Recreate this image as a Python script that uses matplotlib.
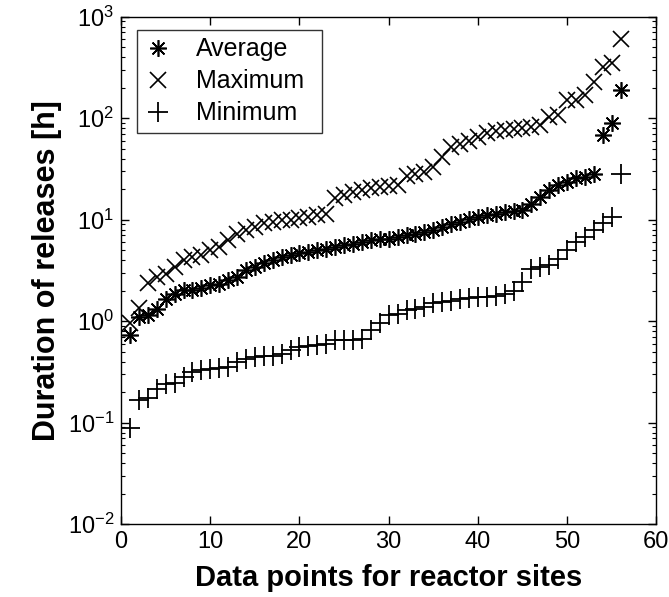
import numpy as np
import matplotlib
matplotlib.use("Agg")
import matplotlib.pyplot as plt
from matplotlib.ticker import LogLocator, NullFormatter

plt.rcParams['font.family'] = ['Liberation Sans', 'DejaVu Sans']

# sorted release durations [h] per reactor site
site_index = np.arange(1, 57)

average = [0.73, 1.1, 1.15, 1.33, 1.67, 1.87, 2.02, 2.05, 2.1, 2.27,
           2.35, 2.54, 2.74, 3.18, 3.43, 3.76, 4.0, 4.3, 4.47, 4.65,
           4.83, 5.0, 5.2, 5.4, 5.6, 5.8, 6.0, 6.3, 6.4, 6.5,
           6.7, 7.0, 7.3, 7.6, 8.0, 8.5, 9.0, 9.5, 10.1, 10.7,
           11.1, 11.5, 12.0, 12.2, 12.4, 14.4, 16.8, 19.6, 22.0, 23.7,
           25.6, 26.5, 28.0, 68.0, 90.0, 190.0]

maximum = [0.95, 1.35, 2.36, 2.74, 2.95, 3.4, 4.0, 4.3, 4.5, 5.0,
           5.4, 6.3, 7.3, 7.9, 8.5, 9.2, 9.5, 9.9, 10.0, 10.3,
           10.7, 11.0, 11.5, 16.2, 17.4, 18.8, 19.6, 20.3, 20.8, 21.4,
           22.0, 27.0, 28.0, 29.6, 33.0, 41.6, 52.0, 56.0, 60.0, 66.0,
           71.0, 74.0, 76.0, 79.0, 79.5, 82.0, 85.0, 103.0, 107.0, 150.0,
           152.0, 170.0, 229.0, 323.0, 347.0, 600.0]

minimum = [0.089, 0.166, 0.177, 0.217, 0.24, 0.245, 0.28, 0.316, 0.33, 0.335,
           0.346, 0.355, 0.40, 0.42, 0.44, 0.45, 0.455, 0.47, 0.525, 0.56,
           0.57, 0.58, 0.60, 0.65, 0.655, 0.66, 0.665, 0.815, 0.95, 1.15,
           1.17, 1.28, 1.33, 1.38, 1.52, 1.54, 1.58, 1.67, 1.70, 1.72,
           1.74, 1.76, 1.87, 1.99, 2.44, 3.3, 3.44, 3.56, 4.1, 5.0,
           6.0, 6.8, 7.9, 9.2, 10.7, 28.0]

fig = plt.figure(figsize=(6.69, 5.97), dpi=100)
ax = fig.add_axes([0.181, 0.122, 0.8, 0.85])

ax.plot(site_index, average, linestyle='none', marker=(8, 2, 0), markersize=12,
        markeredgewidth=1.2, color='black', label='Average')
ax.plot(site_index, maximum, linestyle='none', marker='x', markersize=11,
        markeredgewidth=1.2, color='black', label='Maximum')
ax.plot(site_index, minimum, linestyle='none', marker='+', markersize=15,
        markeredgewidth=1.3, color='black', label='Minimum')

ax.set_yscale('log')
ax.set_xlim(0, 60)
ax.set_ylim(1e-2, 1e3)
ax.set_xticks(np.arange(0, 61, 10))
ax.yaxis.set_major_locator(LogLocator(base=10, numticks=10))
ax.yaxis.set_minor_locator(LogLocator(base=10, subs=np.arange(2, 10), numticks=10))
ax.yaxis.set_minor_formatter(NullFormatter())

ax.tick_params(which='both', direction='in', top=True, right=True, labelsize=17)
ax.tick_params(which='major', length=6, width=1, pad=5)
ax.tick_params(which='minor', length=3, width=0.8)
for s in ax.spines.values():
    s.set_linewidth(1.0)

ax.set_xlabel('Data points for reactor sites', fontsize=21, fontweight='bold', labelpad=8)
ax.set_ylabel('Duration of releases [h]', fontsize=22, fontweight='bold', labelpad=4)

leg = ax.legend(loc='upper left', fontsize=18, frameon=True, fancybox=False,
                edgecolor='black', handlelength=1.1, handletextpad=0.95,
                borderpad=0.3, labelspacing=0.32, borderaxespad=0,
                mode='expand', bbox_to_anchor=(0.030, 0.0, 0.346, 0.974))
leg.get_frame().set_linewidth(1.0)

fig.savefig('out.png', dpi=100)
